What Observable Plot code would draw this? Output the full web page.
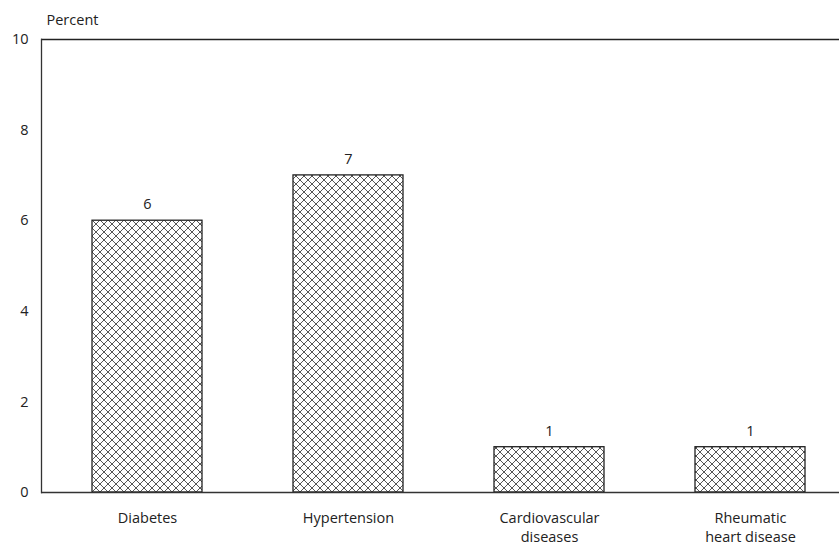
<!DOCTYPE html>
<html><head><meta charset="utf-8">
<script src="https://cdn.jsdelivr.net/npm/d3@7"></script>
<script src="https://cdn.jsdelivr.net/npm/@observablehq/plot@0.6"></script>
<style>body{margin:0;background:#fff;} svg{display:block;}</style>
</head><body><div id="chart"></div>
<script>
const categories = ["Diabetes", "Hypertension", "Cardiovascular diseases", "Rheumatic heart disease"];
const tickLabels = ["Diabetes", "Hypertension", "Cardiovascular\ndiseases", "Rheumatic\nheart disease"];
const values = [6, 7, 1, 1];
const yTicks = [0, 2, 4, 6, 8, 10];

const data = categories.map((c, i) => ({category: c, value: values[i], label: tickLabels[i]}));
const font = "'Open Sans', sans-serif";

const chart = Plot.plot({
  width: 839,
  height: 545,
  marginLeft: 41,
  marginRight: 0,
  marginTop: 39,
  marginBottom: 53,
  style: {fontFamily: font, fontSize: "14.5px", color: "#222", background: "#fff"},
  x: {domain: categories, range: [46, 851], paddingInner: 0.453, paddingOuter: 0.2265, label: null},
  y: {domain: [0, 10], ticks: yTicks, label: null},
  marks: [
    Plot.barY(data, {x: "category", y: "value", fill: "url(#hatch)", stroke: "#222", strokeWidth: 1.3}),
    Plot.text(data, {x: "category", y: "value", text: d => String(d.value), dy: -16, fontSize: 14.5, fill: "#222"}),
    Plot.ruleY([0], {stroke: "#333", strokeWidth: 1.3}),
    Plot.ruleY([10], {stroke: "#222", strokeWidth: 1.3}),
    Plot.axisX({tickSize: 0, tickPadding: 17, tickFormat: d => tickLabels[categories.indexOf(d)], lineHeight: 1.3, fontSize: 14.5, fill: "#222"}),
    Plot.axisY({ticks: yTicks, tickSize: 0, tickPadding: 13, fontSize: 14.5, fill: "#222"}),
    Plot.frame({anchor: "left", stroke: "#333", strokeWidth: 1.3}),
    Plot.text(["Percent"], {frameAnchor: "top-left", dx: 5, dy: -25, textAnchor: "start", fontSize: 14.5, fill: "#222"})
  ]
});

// hatch pattern definition
const ns = "http://www.w3.org/2000/svg";
const defs = document.createElementNS(ns, "defs");
defs.innerHTML = `<pattern id="hatch" patternUnits="userSpaceOnUse" width="8" height="8">
  <rect width="8" height="8" fill="#fff"/>
  <path d="M0,0 L8,8 M8,0 L0,8 M-1,7 L1,9 M7,-1 L9,1 M-1,1 L1,-1 M7,9 L9,7" stroke="#444" stroke-width="0.9"/>
</pattern>`;
chart.insertBefore(defs, chart.firstChild);
document.getElementById("chart").appendChild(chart);
</script>
</body></html>
